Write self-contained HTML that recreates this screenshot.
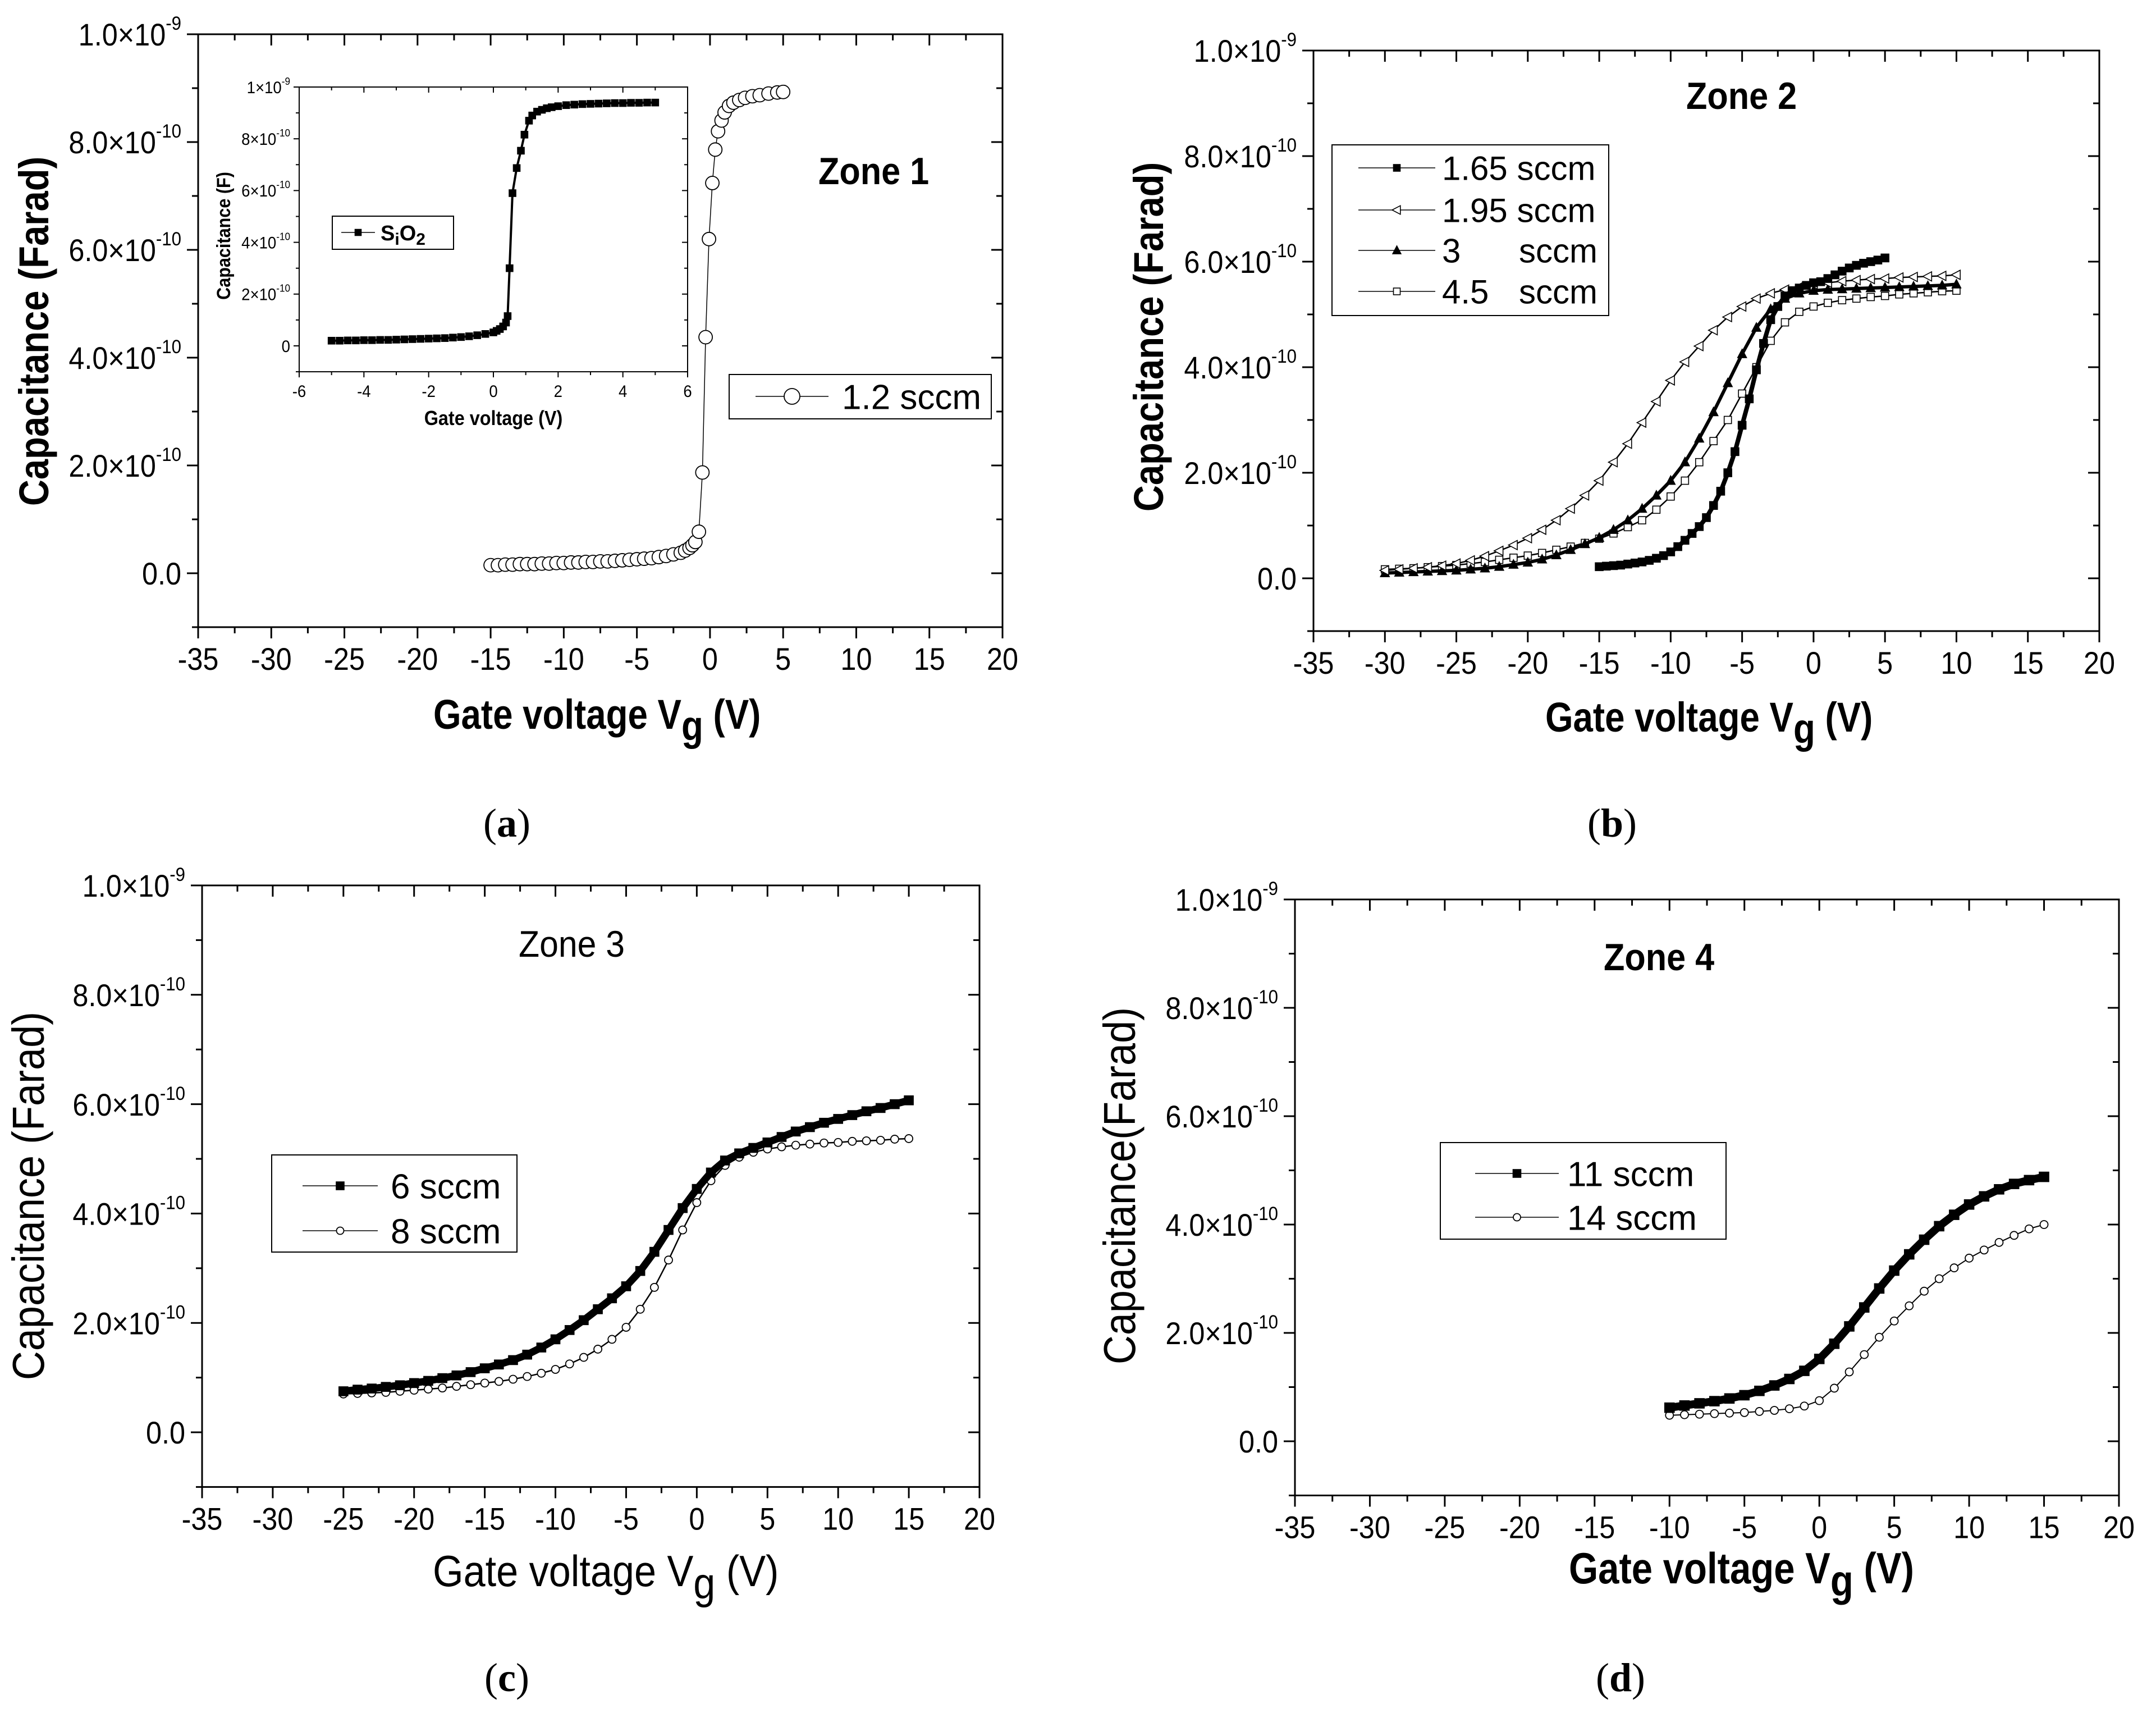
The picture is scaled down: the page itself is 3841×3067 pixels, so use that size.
<!DOCTYPE html>
<html><head><meta charset="utf-8">
<style>
html,body{margin:0;padding:0;background:#fff;}
svg{display:block;}
text{font-family:"Liberation Sans",Arial,sans-serif;fill:#000;}
.serif{font-family:"Liberation Serif",serif;}
</style></head>
<body>
<svg id="chart" xmlns="http://www.w3.org/2000/svg" width="3841" height="3067" viewBox="0 0 3841 3067">
<rect x="0" y="0" width="3841" height="3067" fill="#fff"/>
</svg>
<script>
// ---------- data (capacitance in units of 1e-10 F) ----------
const xTickLabels = [-35,-30,-25,-20,-15,-10,-5,0,5,10,15,20];
const yTickVals = [0,2,4,6,8,10];
const yTickMant = ["0.0","2.0","4.0","6.0","8.0","1.0"];
const yTickExp = ["","-10","-10","-10","-10","-9"];
const insetXTicks = [-6,-4,-2,0,2,4,6];
const insetYTickVals = [0,2,4,6,8,10];
const insetYTickMant = ["0","2","4","6","8","1"];
const insetYTickExp = ["","-10","-10","-10","-10","-9"];

const aV = [-15,-14.5,-14,-13.5,-13,-12.5,-12,-11.5,-11,-10.5,-10,-9.5,-9,-8.5,-8,-7.5,-7,-6.5,-6,-5.5,-5,-4.5,-4,-3.5,-3,-2.5,-2,-1.7,-1.4,-1.2,-1,-0.76,-0.52,-0.3,-0.07,0.16,0.36,0.55,0.79,1,1.3,1.6,2,2.4,2.9,3.4,4,4.6,5];
const aC = [0.15,0.15,0.16,0.16,0.17,0.17,0.17,0.18,0.18,0.19,0.19,0.2,0.2,0.21,0.21,0.22,0.22,0.23,0.24,0.25,0.26,0.27,0.28,0.3,0.32,0.35,0.38,0.42,0.47,0.52,0.58,0.77,1.87,4.38,6.2,7.24,7.86,8.2,8.4,8.55,8.67,8.73,8.78,8.82,8.85,8.87,8.9,8.92,8.93];

const iV = [-5,-4.75,-4.5,-4.25,-4,-3.75,-3.5,-3.25,-3,-2.75,-2.5,-2.25,-2,-1.75,-1.5,-1.25,-1,-0.75,-0.5,-0.25,0,0.1,0.2,0.3,0.39,0.44,0.5,0.59,0.72,0.85,0.96,1.1,1.2,1.35,1.5,1.65,1.8,2,2.25,2.5,2.75,3,3.25,3.5,3.75,4,4.25,4.5,4.75,5];
const iC = [0.2,0.2,0.21,0.21,0.22,0.22,0.23,0.23,0.24,0.25,0.26,0.27,0.28,0.29,0.3,0.32,0.34,0.37,0.41,0.46,0.52,0.58,0.65,0.75,0.9,1.15,3.0,5.9,6.87,7.54,8.16,8.7,8.9,9.05,9.12,9.18,9.22,9.26,9.3,9.32,9.34,9.35,9.36,9.37,9.38,9.38,9.39,9.39,9.4,9.4];

const b1V = [-15,-14.5,-14,-13.5,-13,-12.5,-12,-11.5,-11,-10.5,-10,-9.5,-9,-8.5,-8,-7.5,-7,-6.5,-6,-5.5,-5,-4.5,-4,-3.5,-3,-2.5,-2,-1.5,-1,-0.5,0,0.5,1,1.5,2,2.5,3,3.5,4,4.5,5];
const b1C = [0.22,0.23,0.24,0.25,0.27,0.29,0.31,0.34,0.38,0.43,0.5,0.6,0.72,0.85,0.98,1.15,1.38,1.65,2.0,2.4,2.9,3.4,3.95,4.45,4.9,5.15,5.35,5.45,5.5,5.55,5.6,5.62,5.68,5.75,5.82,5.88,5.93,5.97,6.0,6.03,6.07];
const bV = [-30,-29,-28,-27,-26,-25,-24,-23,-22,-21,-20,-19,-18,-17,-16,-15,-14,-13,-12,-11,-10,-9,-8,-7,-6,-5,-4,-3,-2,-1,0,1,2,3,4,5,6,7,8,9,10];
const b2C = [0.15,0.17,0.19,0.21,0.24,0.28,0.34,0.42,0.52,0.63,0.76,0.92,1.1,1.32,1.57,1.85,2.2,2.55,2.95,3.35,3.75,4.1,4.4,4.7,4.95,5.15,5.3,5.4,5.47,5.52,5.57,5.6,5.63,5.65,5.67,5.68,5.7,5.71,5.72,5.73,5.75];
const b3C = [0.1,0.11,0.12,0.13,0.14,0.15,0.17,0.19,0.22,0.26,0.3,0.36,0.44,0.54,0.65,0.77,0.92,1.1,1.32,1.57,1.85,2.2,2.65,3.15,3.7,4.25,4.75,5.1,5.3,5.4,5.45,5.47,5.48,5.49,5.5,5.51,5.52,5.53,5.54,5.55,5.57];
const b4C = [0.17,0.18,0.19,0.21,0.23,0.25,0.28,0.31,0.35,0.39,0.43,0.48,0.54,0.6,0.67,0.75,0.85,0.97,1.1,1.3,1.55,1.85,2.2,2.6,3.0,3.5,4.0,4.5,4.85,5.05,5.15,5.22,5.27,5.3,5.33,5.35,5.38,5.4,5.42,5.44,5.45];

const cV = [-25,-24,-23,-22,-21,-20,-19,-18,-17,-16,-15,-14,-13,-12,-11,-10,-9,-8,-7,-6,-5,-4,-3,-2,-1,0,1,2,3,4,5,6,7,8,9,10,11,12,13,14,15];
const c6C = [0.75,0.78,0.8,0.83,0.86,0.9,0.94,0.99,1.04,1.1,1.17,1.24,1.32,1.42,1.55,1.7,1.87,2.05,2.25,2.45,2.67,2.95,3.3,3.7,4.1,4.45,4.75,4.97,5.1,5.2,5.3,5.4,5.5,5.58,5.66,5.73,5.8,5.87,5.93,6.0,6.07];
const c8C = [0.7,0.71,0.72,0.73,0.75,0.77,0.79,0.81,0.84,0.87,0.9,0.93,0.97,1.02,1.08,1.15,1.25,1.37,1.52,1.7,1.92,2.25,2.65,3.15,3.7,4.2,4.6,4.88,5.03,5.12,5.18,5.22,5.25,5.27,5.29,5.3,5.32,5.33,5.34,5.36,5.37];

const dV = [-10,-9,-8,-7,-6,-5,-4,-3,-2,-1,0,1,2,3,4,5,6,7,8,9,10,11,12,13,14,15];
const d11C = [0.62,0.66,0.7,0.74,0.79,0.85,0.93,1.03,1.15,1.3,1.52,1.8,2.12,2.47,2.82,3.15,3.45,3.72,3.97,4.18,4.37,4.52,4.65,4.75,4.82,4.88];
const d14C = [0.48,0.49,0.5,0.51,0.52,0.53,0.55,0.57,0.6,0.65,0.75,0.98,1.28,1.6,1.92,2.22,2.5,2.77,3.0,3.2,3.38,3.53,3.67,3.8,3.92,4.0];

// ---------- helpers ----------
const NS = 'http://www.w3.org/2000/svg';
const svg = document.getElementById('chart');
function mk(tag, attrs, parent) {
  const e = document.createElementNS(NS, tag);
  for (const k in attrs) e.setAttribute(k, attrs[k]);
  (parent || svg).appendChild(e);
  return e;
}
function makeAxes(L, R, T, Z, xmin, xmax, ymax) {
  const sx = v => L + (v - xmin) / (xmax - xmin) * (R - L);
  const sy = c => Z - c * (Z - T) / ymax;
  return {sx, sy};
}
function marker(g, type, x, y, s) {
  let e;
  if (type === 'sq' || type === 'osq') {
    e = mk('rect', {x: x - s/2, y: y - s/2, width: s, height: s, fill: type === 'sq' ? '#000' : '#fff', stroke: '#000', 'stroke-width': 1.6}, g);
  } else if (type === 'tri') {
    e = mk('polygon', {points: `${x},${y-s*0.6} ${x-s*0.55},${y+s*0.45} ${x+s*0.55},${y+s*0.45}`, fill: '#000', stroke: '#000', 'stroke-width': 1.2}, g);
  } else if (type === 'ltri') {
    e = mk('polygon', {points: `${x-s*0.6},${y} ${x+s*0.45},${y-s*0.55} ${x+s*0.45},${y+s*0.55}`, fill: '#fff', stroke: '#000', 'stroke-width': 1.6}, g);
  } else {
    e = mk('circle', {cx: x, cy: y, r: s/2, fill: '#fff', stroke: '#000', 'stroke-width': 1.8}, g);
  }
  return e;
}
function drawSeries(ax, V, C, type, size, name, lineW) {
  const g = mk('g', {});
  
  
  let d = '';
  for (let i = 0; i < V.length; i++) d += (i ? 'L' : 'M') + ax.sx(V[i]).toFixed(1) + ',' + ax.sy(C[i]).toFixed(1);
  const p = mk('path', {d: d, fill: 'none', stroke: '#000', 'stroke-width': lineW || 1.5, 'stroke-linejoin': 'round'}, g);
  
  
  for (let i = 0; i < V.length; i++) {
    const m = marker(g, type, ax.sx(V[i]), ax.sy(C[i]), size);
    
    
  }
}
function drawFrame(ax, L, R, T, B, xt, ytv, ymant, yexp, ymax, o) {
  const g = mk('g', {});
  
  
  const fr = mk('rect', {x: L, y: T, width: R - L, height: B - T, fill: 'none', stroke: '#000', 'stroke-width': o.lw}, g);
  
  
  const M = o.maj, m = o.min;
  for (let i = 0; i < xt.length; i++) {
    const x = ax.sx(xt[i]);
    mk('line', {x1: x, y1: B, x2: x, y2: B + M, stroke: '#000', 'stroke-width': o.lw}, g);
    mk('line', {x1: x, y1: T, x2: x, y2: T + M, stroke: '#000', 'stroke-width': o.lw}, g);
    if (i < xt.length - 1) {
      const xm = (x + ax.sx(xt[i + 1])) / 2;
      mk('line', {x1: xm, y1: B, x2: xm, y2: B + m, stroke: '#000', 'stroke-width': o.lw}, g);
      mk('line', {x1: xm, y1: T, x2: xm, y2: T + m, stroke: '#000', 'stroke-width': o.lw}, g);
    }
    const t = mk('text', {x: 0, y: 0, 'text-anchor': 'middle', 'font-size': o.fs, transform: `translate(${x},${B + o.xlab}) scale(${o.sc},1)`}, g);
    t.textContent = xt[i];
    
    
  }
  const step = ytv[1] - ytv[0];
  for (let v = ytv[0] - step / 2; v <= ymax + 0.001; v += step / 2) {
    const y = ax.sy(v);
    const isMaj = ytv.some(t => Math.abs(t - v) < 1e-6);
    const len = isMaj ? M : m;
    mk('line', {x1: L - len, y1: y, x2: L, y2: y, stroke: '#000', 'stroke-width': o.lw}, g);
    mk('line', {x1: R - len, y1: y, x2: R, y2: y, stroke: '#000', 'stroke-width': o.lw}, g);
  }
  for (let i = 0; i < ytv.length; i++) {
    const y = ax.sy(ytv[i]);
    const t = mk('text', {x: 0, y: 0, 'text-anchor': 'end', 'font-size': o.fs, transform: `translate(${L - o.ylab},${y + o.fs * 0.36}) scale(${o.sc},1)`}, g);
    
    
    if (yexp[i]) {
      const a = mk('tspan', {}, t); a.textContent = ymant[i] + '\u00d710';
      const b = mk('tspan', {dy: -o.fs * 0.5, 'font-size': o.fs * 0.62}, t); b.textContent = yexp[i];
    } else {
      t.textContent = ymant[i];
    }
  }
}
function txt(x, y, s, fs, opts, name) {
  const t = mk('text', Object.assign({x: 0, y: 0, 'font-size': fs, transform: `translate(${x},${y}) ${opts.rot ? 'rotate(-90)' : ''} scale(${opts.sc || 1},1)`}, opts.attrs || {}));
  if (opts.bold) t.setAttribute('font-weight', 'bold');
  if (opts.anchor) t.setAttribute('text-anchor', opts.anchor);
  if (opts.cls) t.setAttribute('class', opts.cls);
  
  
  t.textContent = s;
  return t;
}
function panelLabel(x, y, letter, name) {
  const t = mk('text', {x: x, y: y, 'font-size': 72, 'text-anchor': 'middle', class: 'serif'});
  
  
  const a = mk('tspan', {}, t); a.textContent = '(';
  const b = mk('tspan', {'font-weight': 'bold'}, t); b.textContent = letter;
  const c = mk('tspan', {}, t); c.textContent = ')';
}
function xTitle(x, y, fs, bold, sc, name) {
  const t = mk('text', {x: 0, y: 0, 'font-size': fs, transform: `translate(${x},${y}) scale(${sc},1)`});
  if (bold) t.setAttribute('font-weight', 'bold');
  
  
  const a = mk('tspan', {}, t); a.textContent = 'Gate voltage V';
  const b = mk('tspan', {dy: fs * 0.28}, t); b.textContent = 'g';
  const c = mk('tspan', {dy: -fs * 0.28}, t); c.textContent = ' (V)';
}
function legend(x, y, w, h, entries, name) {
  const g = mk('g', {});
  
  
  const r = mk('rect', {x: x, y: y, width: w, height: h, fill: '#fff', stroke: '#000', 'stroke-width': 2}, g);
  
  
  entries.forEach(e => {
    mk('line', {x1: e.l1, y1: e.y, x2: e.l2, y2: e.y, stroke: '#000', 'stroke-width': 1.5}, g);
    marker(g, e.type, (e.l1 + e.l2) / 2, e.y, e.size);
    const t = mk('text', {x: e.tx, y: e.y + e.fs * 0.36, 'font-size': e.fs}, g);
    
    
    t.textContent = e.label;
    if (e.label2) {
      const t2 = mk('text', {x: e.tx2, y: e.y + e.fs * 0.36, 'font-size': e.fs}, g);
      
      
      t2.textContent = e.label2;
    }
  });
}
const mainOpt = n => ({name: n, lw: 3, maj: 20, min: 11, fs: 56, sc: 0.9, xlab: 76, ylab: 30});

// ---------- panel (a) ----------
const axA = makeAxes(353, 1786, 61, 1021, -35, 20, 10);
drawFrame(axA, 353, 1786, 61, axA.sy(-1), xTickLabels, yTickVals, yTickMant, yTickExp, 10, mainOpt('panel-a'));
drawSeries(axA, aV, aC, 'circ', 24, 'series-1-2-sccm');
txt(1458, 328, 'Zone 1', 68, {bold: true, sc: 0.9}, 'zone-1-label');
legend(1299, 667, 467, 79, [{l1: 1346, l2: 1476, y: 706, type: 'circ', size: 28, tx: 1500, fs: 62, label: '1.2 sccm'}], 'legend-a');
txt(86, 590, 'Capacitance (Farad)', 74, {bold: true, rot: true, anchor: 'middle', sc: 0.88}, 'y-axis-title-a');
xTitle(772, 1298, 74, true, 0.86, 'x-axis-title-a');
panelLabel(903, 1490, 'a', 'panel-label-a');

// inset
const axI = makeAxes(533, 1225, 155, 616, -6, 6, 10);
const insBg = mk('rect', {x: 533, y: 153, width: 692, height: 509, fill: '#fff'});


drawFrame(axI, 533, 1225, 155, axI.sy(-1), insetXTicks, insetYTickVals, insetYTickMant, insetYTickExp, 10, {name: 'inset', lw: 2, maj: 10, min: 6, fs: 30, sc: 0.92, xlab: 45, ylab: 16});
drawSeries(axI, iV, iC, 'sq', 12, 'series-sio2', 4);
legend(592, 385, 216, 59, [{l1: 608, l2: 668, y: 414, type: 'sq', size: 11, tx: 678, fs: 36, label: ''}], 'legend-inset');
{
  const t = mk('text', {x: 678, y: 428, 'font-size': 38, 'font-weight': 'bold'});
  
  
  const a = mk('tspan', {}, t); a.textContent = 'S';
  const b = mk('tspan', {dy: 8, 'font-size': 30}, t); b.textContent = 'i';
  const c = mk('tspan', {dy: -8}, t); c.textContent = 'O';
  const d = mk('tspan', {dy: 8, 'font-size': 30}, t); d.textContent = '2';
}
txt(410, 420, 'Capacitance (F)', 34, {bold: true, rot: true, anchor: 'middle', sc: 0.9}, 'inset-y-axis-title');
txt(879, 757, 'Gate voltage (V)', 36, {bold: true, anchor: 'middle', sc: 0.9}, 'inset-x-axis-title');

// ---------- panel (b) ----------
const axB = makeAxes(2340, 3740, 90, 1030, -35, 20, 10);
drawFrame(axB, 2340, 3740, 90, axB.sy(-1), xTickLabels, yTickVals, yTickMant, yTickExp, 10, mainOpt('panel-b'));
drawSeries(axB, bV, b4C, 'osq', 13, 'series-4-5-sccm', 2.5);
drawSeries(axB, bV, b3C, 'tri', 15, 'series-3-sccm', 6);
drawSeries(axB, bV, b2C, 'ltri', 15, 'series-1-95-sccm', 2.5);
drawSeries(axB, b1V, b1C, 'sq', 14, 'series-1-65-sccm', 8);
txt(3004, 194, 'Zone 2', 68, {bold: true, sc: 0.9}, 'zone-2-label');
legend(2373, 258, 493, 304, [
  {l1: 2420, l2: 2557, y: 299, type: 'sq', size: 12, tx: 2569, fs: 60, label: '1.65 sccm'},
  {l1: 2420, l2: 2557, y: 374, type: 'ltri', size: 14, tx: 2569, fs: 60, label: '1.95 sccm'},
  {l1: 2420, l2: 2557, y: 446, type: 'tri', size: 14, tx: 2569, fs: 60, label: '3', label2: 'sccm', tx2: 2706},
  {l1: 2420, l2: 2557, y: 519, type: 'osq', size: 12, tx: 2569, fs: 60, label: '4.5', label2: 'sccm', tx2: 2706}
], 'legend-b');
txt(2072, 600, 'Capacitance (Farad)', 74, {bold: true, rot: true, anchor: 'middle', sc: 0.88}, 'y-axis-title-b');
xTitle(2753, 1303, 74, true, 0.86, 'x-axis-title-b');
panelLabel(2872, 1490, 'b', 'panel-label-b');

// ---------- panel (c) ----------
const axC = makeAxes(360, 1745, 1577, 2551, -35, 20, 10);
drawFrame(axC, 360, 1745, 1577, axC.sy(-1), xTickLabels, yTickVals, yTickMant, yTickExp, 10, mainOpt('panel-c'));
drawSeries(axC, cV, c8C, 'circ', 14, 'series-8-sccm', 2.5);
drawSeries(axC, cV, c6C, 'sq', 16, 'series-6-sccm', 13);
txt(924, 1704, 'Zone 3', 66, {sc: 0.92}, 'zone-3-label');
legend(484, 2057, 437, 173, [
  {l1: 539, l2: 673, y: 2112, type: 'sq', size: 14, tx: 696, fs: 62, label: '6 sccm'},
  {l1: 539, l2: 673, y: 2192, type: 'circ', size: 13, tx: 696, fs: 62, label: '8 sccm'}
], 'legend-c');
txt(78, 2130, 'Capacitance (Farad)', 80, {rot: true, anchor: 'middle', sc: 0.9}, 'y-axis-title-c');
xTitle(771, 2825, 78, false, 0.9, 'x-axis-title-c');
panelLabel(903, 3012, 'c', 'panel-label-c');

// ---------- panel (d) ----------
const axD = makeAxes(2307, 3775, 1602, 2567, -35, 20, 10);
drawFrame(axD, 2307, 3775, 1602, axD.sy(-1), xTickLabels, yTickVals, yTickMant, yTickExp, 10, mainOpt('panel-d'));
drawSeries(axD, dV, d14C, 'circ', 14, 'series-14-sccm', 2);
drawSeries(axD, dV, d11C, 'sq', 17, 'series-11-sccm', 14);
txt(2857, 1728, 'Zone 4', 68, {bold: true, sc: 0.9}, 'zone-4-label');
legend(2566, 2035, 509, 172, [
  {l1: 2628, l2: 2777, y: 2090, type: 'sq', size: 14, tx: 2792, fs: 62, label: '11 sccm'},
  {l1: 2628, l2: 2777, y: 2168, type: 'circ', size: 13, tx: 2792, fs: 62, label: '14 sccm'}
], 'legend-d');
txt(2022, 2112, 'Capacitance(Farad)', 80, {rot: true, anchor: 'middle', sc: 0.9}, 'y-axis-title-d');
xTitle(2795, 2820, 78, true, 0.86, 'x-axis-title-d');
panelLabel(2887, 3012, 'd', 'panel-label-d');
</script>
</body></html>
